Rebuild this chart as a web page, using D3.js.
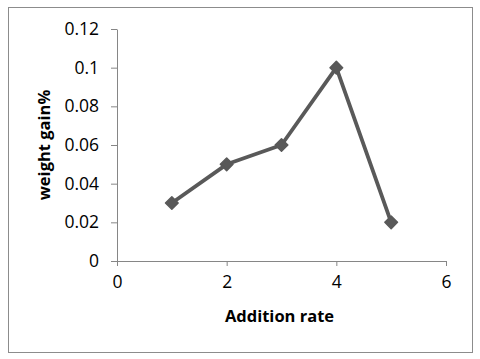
<!DOCTYPE html>
<html>
<head>
<meta charset="utf-8">
<script src="https://cdn.jsdelivr.net/npm/d3@7"></script>
<style>
  body { margin: 0; background: #fff; }
</style>
</head>
<body>
<div id="chart"></div>
<script>
// data
const rates = [1, 2, 3, 4, 5];
const gains = [0.03, 0.05, 0.06, 0.1, 0.02];
const xTicks = [0, 2, 4, 6];
const yTicks = [0, 0.02, 0.04, 0.06, 0.08, 0.1, 0.12];

const W = 480, H = 359;
const margin = { top: 29, right: 34, bottom: 98, left: 117 };
const width = W - margin.left - margin.right;
const height = H - margin.top - margin.bottom;

const svg = d3.select('#chart')
  .append('svg')
    .attr('width', W)
    .attr('height', H);

// outer frame
svg.append('rect')
  .attr('x', 8.5).attr('y', 7.5)
  .attr('width', 464).attr('height', 345)
  .attr('fill', 'none')
  .attr('stroke', '#8c8c8c')
  .attr('stroke-width', 1);

const g = svg.append('g')
  .attr('transform', `translate(${margin.left},${margin.top})`);

const x = d3.scaleLinear().domain([0, 6]).range([0, width]);
const y = d3.scaleLinear().domain([0, 0.12]).range([height, 0]);

const fmt = d => d === 0 ? '0' : String(+d.toFixed(2));

// y axis
g.append('g')
  .call(d3.axisLeft(y).tickValues(yTicks).tickFormat(fmt).tickSize(6).tickSizeOuter(0).tickPadding(12))
  .call(a => a.selectAll('path, line').attr('stroke', '#868686'))
  .call(a => a.selectAll('text').attr('fill', '#000')
    .attr('font-family', 'Open Sans').attr('font-size', 17.5));

// x axis
g.append('g')
  .attr('transform', `translate(0,${height})`)
  .call(d3.axisBottom(x).tickValues(xTicks).tickFormat(fmt).tickSize(5).tickSizeOuter(0).tickPadding(10))
  .call(a => a.selectAll('path, line').attr('stroke', '#868686'))
  .call(a => a.selectAll('text').attr('fill', '#000')
    .attr('font-family', 'Open Sans').attr('font-size', 17.5));

// line
const line = d3.line()
  .x((d, i) => x(rates[i]))
  .y(d => y(d));

g.append('path')
  .datum(gains)
  .attr('d', line)
  .attr('fill', 'none')
  .attr('stroke', '#595959')
  .attr('stroke-width', 3.8)
  .attr('stroke-linejoin', 'round');

// diamond markers
g.selectAll('.mk')
  .data(gains)
  .join('path')
    .attr('class', 'mk')
    .attr('transform', (d, i) => `translate(${x(rates[i])},${y(d)}) rotate(45)`)
    .attr('d', d3.symbol().type(d3.symbolSquare).size(80))
    .attr('fill', '#595959')
    .attr('stroke', '#595959')
    .attr('stroke-width', 1.5)
    .attr('stroke-linejoin', 'round');

// axis titles
svg.append('text')
  .attr('x', margin.left + width / 2 - 2)
  .attr('y', 322)
  .attr('text-anchor', 'middle')
  .attr('font-family', 'Open Sans')
  .attr('font-weight', 'bold')
  .attr('font-size', 16.5)
  .text('Addition rate');

svg.append('text')
  .attr('transform', `translate(50,145) rotate(-90)`)
  .attr('text-anchor', 'middle')
  .attr('font-family', 'Open Sans')
  .attr('font-weight', 'bold')
  .attr('font-size', 16.5)
  .text('weight gain%');
</script>
</body>
</html>
